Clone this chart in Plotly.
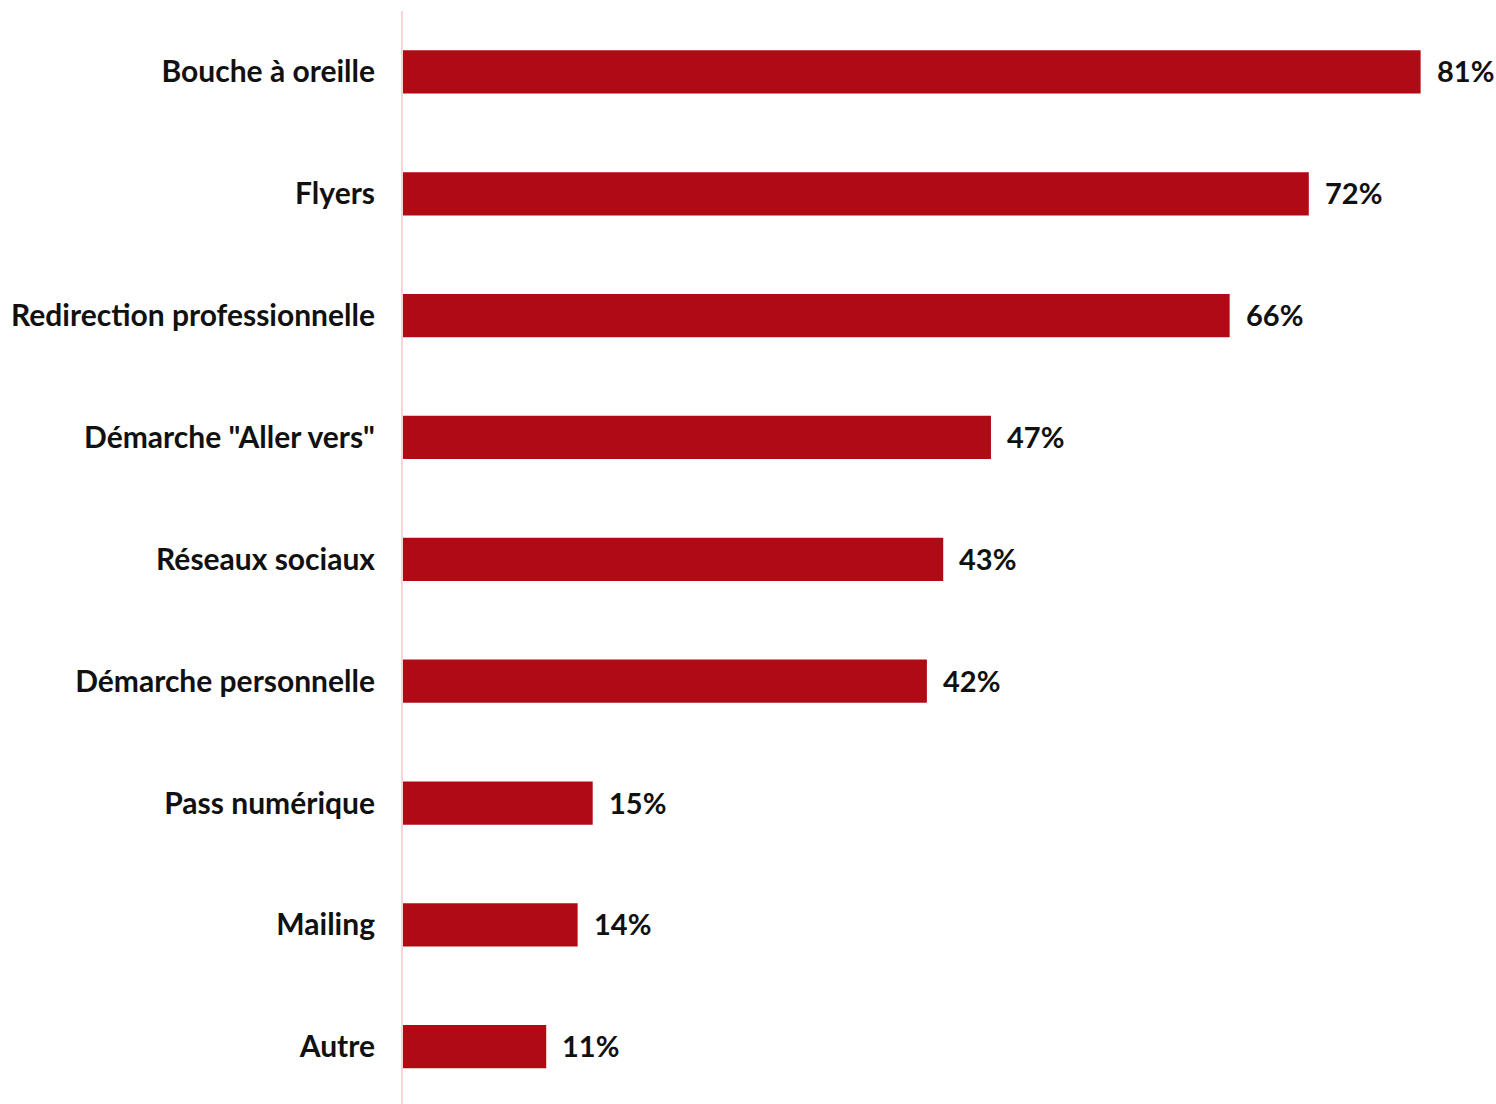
import plotly.graph_objects as go

categories = ["Bouche à oreille", "Flyers", "Redirection professionnelle", "Démarche \"Aller vers\"",
              "Réseaux sociaux", "Démarche personnelle", "Pass numérique", "Mailing", "Autre"]
values = [81.0, 72.1, 65.8, 46.8, 43.0, 41.7, 15.1, 13.9, 11.4]
labels = ["81%", "72%", "66%", "47%", "43%", "42%", "15%", "14%", "11%"]

BAR = "#B00B14"
FONT = "Lato, 'Open Sans', sans-serif"

fig = go.Figure(go.Bar(
    x=values, y=categories, orientation="h",
    marker=dict(color=BAR, line=dict(width=0)),
    width=0.355,
    hoverinfo="x+y",
))

for cat, val, lab in zip(categories, values, labels):
    fig.add_annotation(x=val, y=cat, text=lab, showarrow=False, xanchor="left", yanchor="middle",
                       xshift=14, yshift=1,
                       font=dict(family=FONT, size=29, color="#111111", weight="bold"))

fig.update_layout(
    width=1496, height=1104,
    margin=dict(l=403, r=0, t=11, b=0),
    paper_bgcolor="white", plot_bgcolor="white",
    showlegend=False,
    font=dict(family=FONT, color="#111111"),
    xaxis=dict(range=[0, 87], visible=False, showgrid=False, zeroline=False),
    yaxis=dict(categoryorder="array", categoryarray=categories, range=[8.47, -0.5],
               showgrid=False, zeroline=False, showline=True, linecolor="#FAD4D6", linewidth=2,
               ticks="", ticklabelstandoff=20,
               tickfont=dict(family=FONT, size=30, color="#111111", weight="bold")),
)

fig.write_html("out.html")
